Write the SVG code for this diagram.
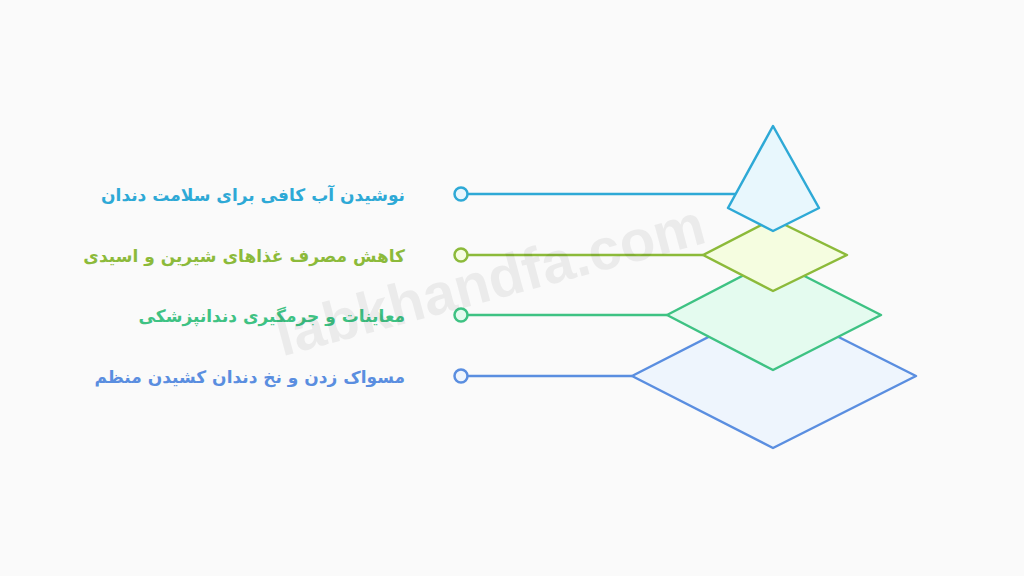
<svg xmlns="http://www.w3.org/2000/svg" width="1024" height="576" viewBox="0 0 1024 576">
<style>
.t{font-family:"DejaVu Sans",sans-serif;font-size:17px;font-weight:bold;text-anchor:end}
.c{stroke-width:2.5;fill:none}
.s{stroke-width:2.5;stroke-linejoin:round}
</style>
<rect width="1024" height="576" fill="#fafafa"/>
<g id="connectors">
<line class="c" x1="467" y1="194" x2="736" y2="194" stroke="#2ea9d6"/>
<line class="c" x1="467" y1="255" x2="703" y2="255" stroke="#8cba3a"/>
<line class="c" x1="467" y1="315" x2="667" y2="315" stroke="#3ec283"/>
<line class="c" x1="467" y1="376" x2="632" y2="376" stroke="#5a8ee0"/>
</g>
<g id="layer4"><polygon class="s" points="773,304 916,376 773,448 632,376" fill="#eef5fd" stroke="#5a8ee0"/><circle cx="461" cy="376" r="6.5" fill="#eef5fd" stroke="#5a8ee0" stroke-width="2.5"/><text class="t" x="405" y="383" fill="#5a8ee0">مسواک زدن و نخ دندان کشیدن منظم</text></g>
<g id="layer3"><polygon class="s" points="773,260 881,315 773,370 667,315" fill="#e4fbef" stroke="#3ec283"/><circle cx="461" cy="315" r="6.5" fill="#e4fbef" stroke="#3ec283" stroke-width="2.5"/><text class="t" x="405" y="322" fill="#3ec283">معاینات و جرمگیری دندانپزشکی</text></g>
<g id="layer2"><polygon class="s" points="773,219 847,255 773,291 703,255" fill="#f5fde0" stroke="#8cba3a"/><circle cx="461" cy="255" r="6.5" fill="#f5fde0" stroke="#8cba3a" stroke-width="2.5"/><text class="t" x="405" y="262" fill="#8cba3a">کاهش مصرف غذاهای شیرین و اسیدی</text></g>
<g id="layer1"><polygon class="s" points="773,126 819,208 773,231 728,208" fill="#e8f7fd" stroke="#2ea9d6"/><circle cx="461" cy="194" r="6.5" fill="#e8f7fd" stroke="#2ea9d6" stroke-width="2.5"/><text class="t" x="405" y="201" fill="#2ea9d6">نوشیدن آب کافی برای سلامت دندان</text></g>
<text x="490" y="300" transform="rotate(-15 490 280)" font-family="Liberation Sans,sans-serif" font-size="58" font-weight="bold" fill="#000" fill-opacity="0.06" text-anchor="middle">labkhandfa.com</text>
</svg>
